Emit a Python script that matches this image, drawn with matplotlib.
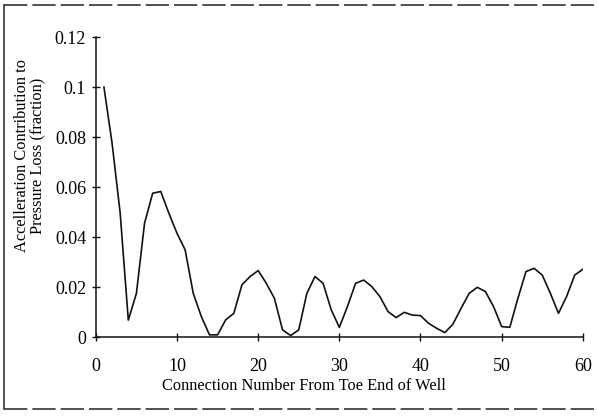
import matplotlib
matplotlib.use('Agg')
from matplotlib import pyplot as plt
from matplotlib.lines import Line2D

connection = list(range(1, 61))
accel_fraction = [
    0.1000, 0.0776, 0.0496, 0.0069, 0.0176, 0.0456, 0.0576, 0.0583, 0.0496, 0.0416,
    0.0350, 0.0176, 0.0083, 0.0010, 0.0010, 0.0070, 0.0096, 0.0210, 0.0243, 0.0267,
    0.0216, 0.0156, 0.0030, 0.0007, 0.0030, 0.0176, 0.0243, 0.0216, 0.0110, 0.0040,
    0.0123, 0.0216, 0.0229, 0.0203, 0.0163, 0.0103, 0.0079, 0.0100, 0.0089, 0.0087,
    0.0056, 0.0036, 0.0019, 0.0053, 0.0116, 0.0176, 0.0200, 0.0183, 0.0123, 0.0043,
    0.0040, 0.0156, 0.0263, 0.0276, 0.0249, 0.0176, 0.0096, 0.0163, 0.0249, 0.0272,
]
x_ticks = [0, 10, 20, 30, 40, 50, 60]
y_ticks = [0, 0.02, 0.04, 0.06, 0.08, 0.1, 0.12]
y_tick_labels = ['0', '0.02', '0.04', '0.06', '0.08', '0.1', '0.12']

plt.rcParams['font.family'] = ['Liberation Serif', 'DejaVu Serif']

fig = plt.figure(figsize=(5.99, 4.17), dpi=100)
ax = fig.add_axes([0.160, 0.191, 0.813, 0.720])

ax.plot(connection, accel_fraction, color='#111111', linewidth=1.2)

ax.set_xlim(0, 60)
ax.set_ylim(0, 0.12)
ax.set_xticks(x_ticks)
ax.set_yticks(y_ticks)
ax.set_yticklabels(y_tick_labels)
ax.tick_params(direction='inout', length=6, width=1, labelsize=13, color='#111111')
ax.tick_params(axis='x', pad=12)
ax.tick_params(axis='y', pad=4)
for side in ['top', 'right']:
    ax.spines[side].set_visible(False)
for side in ['left', 'bottom']:
    ax.spines[side].set_linewidth(1.1)
    ax.spines[side].set_color('#111111')

fig.text(304 / 599, 1 - 386 / 417, 'Connection Number From Toe End of Well',
         ha='center', va='center', fontsize=11.8)
fig.text(30 / 599, 1 - 156 / 417,
         'Accelleration Contribution to\nPressure Loss (fraction)',
         ha='center', va='center', rotation=90, fontsize=11.8,
         multialignment='center', linespacing=1.05)

# frame around the figure, open on the right like the scan
border = dict(color='#333333', linewidth=1.2, transform=fig.transFigure)
fig.add_artist(Line2D([4 / 599, 1], [1 - 5 / 417, 1 - 5 / 417], linestyle=(0, (14, 3)), **border))
fig.add_artist(Line2D([4 / 599, 1], [1 - 409 / 417, 1 - 409 / 417], linestyle=(0, (14, 3)), **border))
fig.add_artist(Line2D([4 / 599, 4 / 599], [1 - 5 / 417, 1 - 409 / 417], **border))

fig.savefig('out.png', dpi=100)
